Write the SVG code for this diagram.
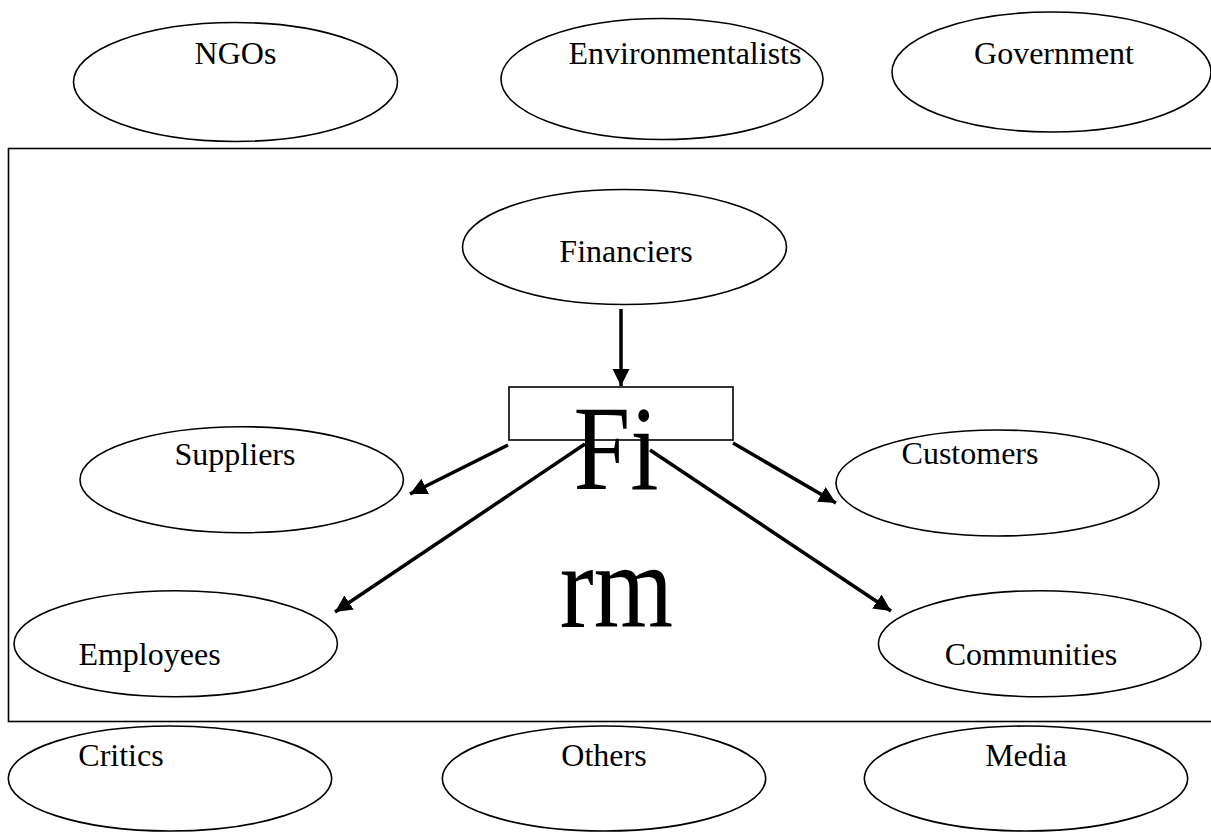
<svg xmlns="http://www.w3.org/2000/svg" width="1211" height="832" viewBox="0 0 1211 832">
<style>
.n{fill:#fff;stroke:#000;stroke-width:1.6}
.t{font-family:"Liberation Serif","Times New Roman",serif;font-size:32px;fill:#000;text-anchor:middle}
.big{font-family:"Liberation Serif","Times New Roman",serif;font-size:120px;fill:#000;text-anchor:middle}
.c{stroke:#000;stroke-width:3.5;fill:none;marker-end:url(#ah)}
</style>
<defs>
<marker id="ah" markerUnits="userSpaceOnUse" markerWidth="18" markerHeight="18" refX="17" refY="8.5" orient="auto">
<path d="M0,0 L17,8.5 L0,17 z" fill="#000"/>
</marker>
</defs>
<rect fill="#fff" width="1211" height="832"/>
<g id="boundary"><rect x="8.5" y="148.5" width="1210" height="573" fill="none" stroke="#000" stroke-width="1.6"/></g>
<g id="ngos"><ellipse class="n" cx="235.5" cy="82" rx="162" ry="59.5"/><text class="t" x="235.5" y="64">NGOs</text></g>
<g id="environmentalists"><ellipse class="n" cx="662" cy="79" rx="161" ry="60.5"/><text class="t" x="685" y="64">Environmentalists</text></g>
<g id="government"><ellipse class="n" cx="1051.5" cy="72" rx="159.5" ry="60"/><text class="t" x="1054" y="64">Government</text></g>
<g id="financiers"><ellipse class="n" cx="624.5" cy="247" rx="162" ry="57.5"/><text class="t" x="626" y="262">Financiers</text></g>
<g id="suppliers"><ellipse class="n" cx="241.7" cy="479.7" rx="161.7" ry="53"/><text class="t" x="235" y="465">Suppliers</text></g>
<g id="customers"><ellipse class="n" cx="997.5" cy="483" rx="161.5" ry="53"/><text class="t" x="970" y="464">Customers</text></g>
<g id="employees"><ellipse class="n" cx="175.7" cy="643.7" rx="161.7" ry="53"/><text class="t" x="149.5" y="665">Employees</text></g>
<g id="communities"><ellipse class="n" cx="1039.7" cy="643.7" rx="161.3" ry="53"/><text class="t" x="1031" y="665">Communities</text></g>
<g id="critics"><ellipse class="n" cx="170" cy="778.5" rx="161.7" ry="52.5"/><text class="t" x="121" y="766">Critics</text></g>
<g id="others"><ellipse class="n" cx="604" cy="778.5" rx="161.7" ry="52.5"/><text class="t" x="604" y="766">Others</text></g>
<g id="media"><ellipse class="n" cx="1026" cy="778.5" rx="161.7" ry="52.5"/><text class="t" x="1026" y="766">Media</text></g>
<g id="connectors">
<line class="c" x1="621" y1="309" x2="621" y2="386"/>
<line class="c" x1="508" y1="445" x2="410" y2="494"/>
<line class="c" x1="585" y1="444" x2="335" y2="612"/>
<line class="c" x1="733" y1="443" x2="836" y2="503"/>
<line class="c" x1="650" y1="450" x2="891" y2="611"/>
</g>
<g id="firm">
<rect x="509" y="387" width="224" height="53" fill="none" stroke="#000" stroke-width="1.6"/>
<text class="big" transform="translate(616,489) scale(0.85,1)">Fi</text>
<text class="big" transform="translate(616.5,627) scale(0.85,1)">rm</text>
</g>
</svg>
